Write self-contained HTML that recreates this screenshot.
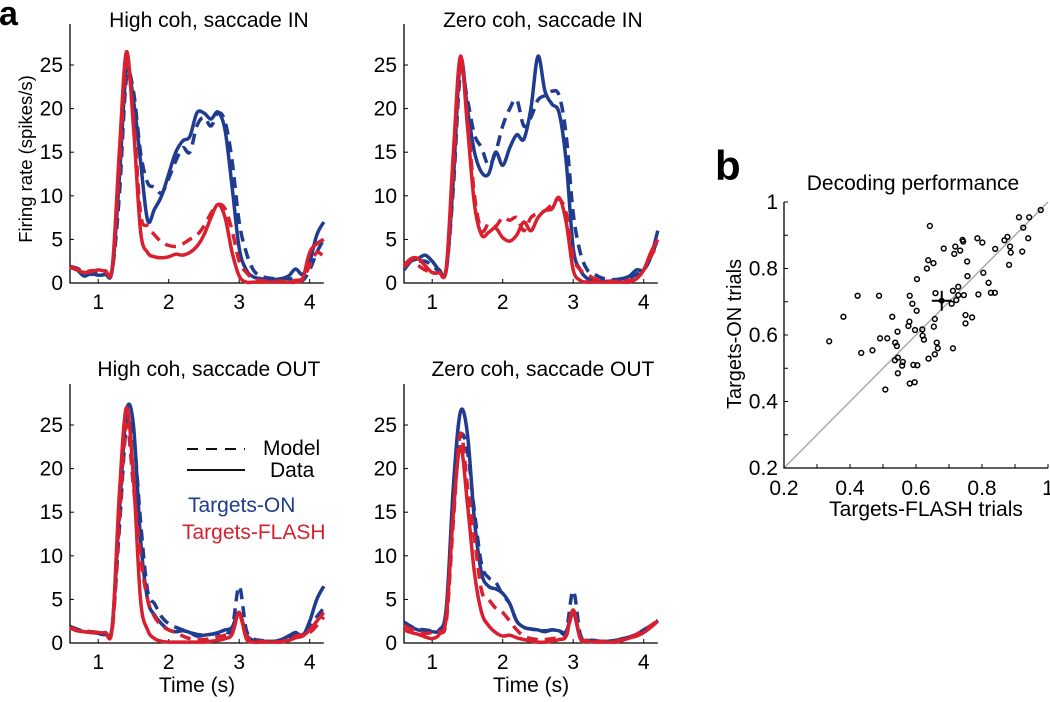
<!DOCTYPE html>
<html><head><meta charset="utf-8">
<style>
body{margin:0;background:#fff;}
svg{display:block;font-family:"Liberation Sans",Arial,sans-serif;}
</style></head>
<body>
<svg id="fig" width="1050" height="702" viewBox="0 0 1050 702" xmlns="http://www.w3.org/2000/svg">
<text x="-1" y="25" font-size="34" font-weight="bold">a</text>
<text x="715" y="180" font-size="42" font-weight="bold">b</text>
<text transform="translate(32,159) rotate(-90)" text-anchor="middle" font-size="18.5">Firing rate (spikes/s)</text>
<text x="197" y="692" text-anchor="middle" font-size="21">Time (s)</text>
<text x="531" y="692" text-anchor="middle" font-size="21">Time (s)</text>
<g>
<line x1="187" y1="449" x2="245" y2="449" stroke="#111" stroke-width="2" stroke-dasharray="11,8"/>
<text x="263" y="455" font-size="21">Model</text>
<line x1="187" y1="470" x2="245" y2="470" stroke="#111" stroke-width="2"/>
<text x="270" y="477" font-size="21">Data</text>
<text x="188" y="512" font-size="21" fill="#1f3c8f">Targets-ON</text>
<text x="182" y="539" font-size="21" fill="#d8202f">Targets-FLASH</text>
</g>
</svg>
<script>
const times = [0.6,0.7,0.8,0.9,1.0,1.1,1.2,1.3,1.4,1.5,1.6,1.7,1.8,1.9,2.0,2.1,2.2,2.3,2.4,2.5,2.6,2.7,2.8,2.9,3.0,3.1,3.2,3.3,3.4,3.5,3.6,3.7,3.8,3.9,4.0,4.1,4.2];
const yTicks = [0,5,10,15,20,25];
const xTicks = [1,2,3,4];
const hiBlueData = [1.8,1.5,0.8,1.1,0.9,1.0,1.5,12,24.5,21,14,7.2,8.5,10,12.5,15,16.3,16.8,19.5,19.5,18.8,19.6,17.5,11,4,1.5,0.7,0.5,0.4,0.4,0.5,0.8,1.6,1.0,2.5,5.5,7];
const hiBlueModel = [1.9,1.7,1.2,1.0,1.1,1.2,1.6,10,23.5,22,15,11.5,11,10.3,12,14,15.5,15,18,19,18,19.5,18.5,14,7,3.5,1.5,0.8,0.6,0.5,0.5,0.5,0.4,0.3,1.5,3.5,5];
const hiRedData = [1.8,1.5,1.2,1.3,1.5,1.4,1.8,15,26.5,18,6,3.5,3.0,2.9,3.0,3.3,3.2,3.5,4.2,5.5,7.5,9,7.5,3.5,0.8,0.1,0.1,0.1,0.1,0.1,0.1,0.1,0.1,0.5,3.5,4.5,5];
const hiRedModel = [1.9,1.6,1.3,1.4,1.4,1.3,1.7,13,25,19,8,6.5,5.5,4.7,4.3,4.2,4.5,5,5.5,6.5,8,9,8.5,6,2.5,1.2,0.5,0.3,0.2,0.2,0.2,0.2,0.3,0.5,2,3.5,3];
const ziBlueData = [1.5,2.5,2.8,3.2,2.5,1.5,1.5,12,25.5,20,15,12.7,12.5,15,13.5,15.5,17,16.5,20,26,22,20.5,19.5,14,4,1.5,0.5,0.3,0.2,0.2,0.3,0.5,0.8,1.5,1.5,3,6];
const ziBlueModel = [1.8,2.6,2.5,2.5,2,1.4,1.6,11,24,21,17,15.5,13.5,15,18,20,21,18,19,21,21.5,22,21.5,17,8,3.5,1.5,1.0,0.6,0.4,0.4,0.5,0.6,1.0,1.5,3,5];
const ziRedData = [2,2.8,2.8,2,1.2,1.2,1.8,15,26,18,9,5.5,5.8,6.3,5.2,4.8,5.5,7,6,7.5,8.3,8.5,9.8,7,1.5,0.3,0.1,0.1,0.1,0.1,0.1,0.1,0.1,0.5,1.5,3.5,5];
const ziRedModel = [1.8,2.5,2,1.5,1.2,1.2,1.5,13,25,19,10,6,6.8,6.5,7.5,7.2,7.5,6,7.5,8,8.3,9,9.6,8,3,1.5,1,0.5,0.3,0.2,0.2,0.2,0.3,0.5,1.5,3,4.5];
const hoBlueData = [1.8,1.5,1.3,1.2,1.1,1.0,2,15,26.5,25,12,5,3.2,2.2,1.5,1.3,1.4,1.2,0.8,0.9,1.0,1.2,1.5,1.8,3.5,1.0,0.3,0.2,0.2,0.2,0.4,0.8,1.2,0.8,2.5,5,6.5];
const hoBlueModel = [1.9,1.6,1.4,1.3,1.2,1.1,1.8,13,25,24,14,6,4.5,3,2.2,1.8,1.5,1.2,1.0,0.9,1.0,1.1,1.3,1.6,6.5,1.5,0.5,0.3,0.2,0.2,0.3,0.6,1.0,1.0,1.8,3,4];
const hoRedData = [1.7,1.4,1.3,1.2,1.2,1.2,1.8,17,27,19,5,1.5,0.5,0.2,0.1,0.1,0.1,0.1,0.1,0.1,0.2,0.3,0.5,1.0,3.5,0.5,0.1,0.1,0.1,0.1,0.1,0.3,0.6,0.8,1.5,2.5,3.5];
const hoRedModel = [1.8,1.5,1.3,1.3,1.2,1.2,1.6,14,25,18,10,5,3,2,1.5,1.2,0.8,0.5,0.4,0.4,0.5,0.7,0.9,1.2,3.2,0.8,0.3,0.2,0.1,0.1,0.2,0.4,0.8,1.0,1.2,2,3];
const zoBlueData = [2.2,1.8,1.5,1.4,1.3,1.5,4,18,26.5,24,14,8,6.5,6.2,5.7,4.5,2.5,1.8,1.6,1.5,1.3,1.5,1.4,1.3,3.5,0.5,0.3,0.2,0.2,0.2,0.3,0.5,0.7,1,1.5,2,2.5];
const zoBlueModel = [2.4,1.9,1.6,1.5,1.4,1.5,3,15,23.5,22,15,9,7.5,7,5.5,4.5,2.5,1.8,1.6,1.5,1.4,1.5,1.4,1.3,6,1,0.4,0.3,0.2,0.2,0.3,0.4,0.6,1,1.4,2,2.6];
const zoRedData = [1.5,1.2,1.0,0.7,0.5,1.0,3,15,22.5,16,8,3.5,2,1.2,0.8,0.9,0.6,0.4,0.2,0.1,0.1,0.2,0.4,0.8,3.8,0.5,0.2,0.1,0.1,0.1,0.1,0.3,0.6,0.8,1.2,1.8,2.5];
const zoRedModel = [2,1.6,1.3,1.1,1.2,1.3,2.5,14,24,18,12,6,5,4,3.5,2.5,1.5,0.8,0.5,0.4,0.4,0.5,0.6,0.8,3.5,0.6,0.3,0.2,0.2,0.2,0.2,0.4,0.7,1.0,1.5,2,2.6];
const scatterX = [0.337,0.380,0.423,0.488,0.434,0.468,0.491,0.513,0.528,0.544,0.537,0.542,0.536,0.545,0.558,0.560,0.545,0.507,0.581,0.596,0.592,0.604,0.581,0.589,0.602,0.580,0.577,0.597,0.619,0.620,0.624,0.603,0.642,0.637,0.653,0.633,0.638,0.657,0.663,0.666,0.654,0.657,0.659,0.684,0.712,0.708,0.722,0.712,0.728,0.728,0.745,0.719,0.716,0.734,0.741,0.743,0.755,0.756,0.750,0.750,0.770,0.786,0.801,0.789,0.804,0.820,0.827,0.839,0.840,0.868,0.877,0.885,0.887,0.882,0.912,0.925,0.943,0.940,0.922,0.978];
const scatterY = [0.581,0.655,0.718,0.718,0.546,0.554,0.590,0.590,0.655,0.610,0.577,0.567,0.524,0.532,0.508,0.519,0.485,0.436,0.454,0.458,0.510,0.509,0.718,0.694,0.673,0.640,0.627,0.615,0.617,0.598,0.586,0.768,0.928,0.825,0.816,0.800,0.529,0.542,0.577,0.560,0.625,0.648,0.726,0.860,0.560,0.694,0.705,0.733,0.745,0.720,0.720,0.866,0.844,0.854,0.886,0.881,0.821,0.777,0.660,0.635,0.653,0.891,0.878,0.722,0.787,0.757,0.727,0.727,0.859,0.885,0.895,0.866,0.848,0.811,0.954,0.923,0.954,0.891,0.851,0.976];
const meanXY = [0.678,0.703];
const meanErr = [0.03,0.03];
const bTicks = [0.2,0.3,0.4,0.5,0.6,0.7,0.8,0.9,1.0];
const bLabels = [0.2,0.4,0.6,0.8,1];

const NS='http://www.w3.org/2000/svg';
const svg=document.getElementById('fig');
function mk(tag,attrs,parent){const e=document.createElementNS(NS,tag);for(const k in attrs)e.setAttribute(k,attrs[k]);(parent||svg).appendChild(e);return e;}
function smooth(pts){let d='M'+pts[0][0].toFixed(1)+','+pts[0][1].toFixed(1);for(let i=0;i<pts.length-1;i++){const p0=pts[Math.max(0,i-1)],p1=pts[i],p2=pts[i+1],p3=pts[Math.min(pts.length-1,i+2)];const c1x=p1[0]+(p2[0]-p0[0])/6,c1y=p1[1]+(p2[1]-p0[1])/6,c2x=p2[0]-(p3[0]-p1[0])/6,c2y=p2[1]-(p3[1]-p1[1])/6;d+=' C'+c1x.toFixed(1)+','+c1y.toFixed(1)+' '+c2x.toFixed(1)+','+c2y.toFixed(1)+' '+p2[0].toFixed(1)+','+p2[1].toFixed(1);}return d;}

const BLUE='#1f3c8f',RED='#d8202f';
function panel(name,title,x0,base,titleY,series){
  const g=mk('g',{});
  
  
  const sx=t=>x0+(t-0.6)*70.5, sy=v=>base-v*8.72;
  const w=3.6*70.5;
  const ax=mk('path',{d:'M'+x0+','+(base-259)+' L'+x0+','+base+' L'+(x0+w)+','+base,fill:'none',stroke:'#000','stroke-width':1.3},g);
  
  
  yTicks.forEach(v=>{
    mk('line',{x1:x0,x2:x0+4,y1:sy(v),y2:sy(v),stroke:'#000','stroke-width':1},g);
    const t=mk('text',{x:x0-7,y:sy(v)+7,'text-anchor':'end','font-size':21},g);t.textContent=v;
    
    
  });
  xTicks.forEach(v=>{
    mk('line',{x1:sx(v),x2:sx(v),y1:base,y2:base-4,stroke:'#000','stroke-width':1},g);
    const t=mk('text',{x:sx(v),y:base+26,'text-anchor':'middle','font-size':21},g);t.textContent=v;
    
    
  });
  const tt=mk('text',{x:x0+w/2+12,y:titleY,'text-anchor':'middle','font-size':21},g);tt.textContent=title;
  
  
  series.forEach(s=>{
    const pts=times.map((t,i)=>[sx(t),sy(s.v[i])]);
    const p=mk('path',{d:smooth(pts),fill:'none',stroke:s.c,'stroke-width':3.5,'stroke-linejoin':'round','stroke-dasharray':s.dash?'11,7':'none'},g);
    
    
  });
}
panel('panel-high-coh-in','High coh, saccade IN',70,283,27,[{v:hiBlueModel,c:BLUE,dash:1,n:'targets-on-model'},{v:hiBlueData,c:BLUE,n:'targets-on-data'},{v:hiRedModel,c:RED,dash:1,n:'targets-flash-model'},{v:hiRedData,c:RED,n:'targets-flash-data'}]);
panel('panel-zero-coh-in','Zero coh, saccade IN',404,283,27,[{v:ziBlueModel,c:BLUE,dash:1,n:'targets-on-model'},{v:ziBlueData,c:BLUE,n:'targets-on-data'},{v:ziRedModel,c:RED,dash:1,n:'targets-flash-model'},{v:ziRedData,c:RED,n:'targets-flash-data'}]);
panel('panel-high-coh-out','High coh, saccade OUT',70,643,376,[{v:hoBlueModel,c:BLUE,dash:1,n:'targets-on-model'},{v:hoBlueData,c:BLUE,n:'targets-on-data'},{v:hoRedModel,c:RED,dash:1,n:'targets-flash-model'},{v:hoRedData,c:RED,n:'targets-flash-data'}]);
panel('panel-zero-coh-out','Zero coh, saccade OUT',404,643,376,[{v:zoBlueModel,c:BLUE,dash:1,n:'targets-on-model'},{v:zoBlueData,c:BLUE,n:'targets-on-data'},{v:zoRedModel,c:RED,dash:1,n:'targets-flash-model'},{v:zoRedData,c:RED,n:'targets-flash-data'}]);

// Panel b scatter
const gb=mk('g',{});


const bx=v=>784+(v-0.2)/0.8*264, by=v=>468-(v-0.2)/0.8*266;
const diag=mk('line',{x1:bx(0.2),y1:by(0.2),x2:bx(1),y2:by(1),stroke:'#aaa','stroke-width':1.5},gb);


const bax=mk('path',{d:'M'+bx(0.2)+','+by(1)+' L'+bx(0.2)+','+by(0.2)+' L'+bx(1)+','+by(0.2),fill:'none',stroke:'#000','stroke-width':1.3},gb);


bTicks.forEach(v=>{
  mk('line',{x1:bx(0.2),x2:bx(0.2)+4,y1:by(v),y2:by(v),stroke:'#000','stroke-width':1},gb);
  mk('line',{x1:bx(v),x2:bx(v),y1:by(0.2),y2:by(0.2)-4,stroke:'#000','stroke-width':1},gb);
});
bLabels.forEach(v=>{
  const t=mk('text',{x:bx(0.2)-6,y:by(v)+7,'text-anchor':'end','font-size':21},gb);t.textContent=v;
  
  
  const u=mk('text',{x:bx(v),y:by(0.2)+27,'text-anchor':'middle','font-size':21},gb);u.textContent=v;
  
  
});
scatterX.forEach((x,i)=>{
  const c=mk('circle',{cx:bx(x),cy:by(scatterY[i]),r:2.4,fill:'none',stroke:'#000','stroke-width':1.5},gb);
  
  
});
const mg=mk('g',{},gb);


mk('line',{x1:bx(meanXY[0]-meanErr[0]),x2:bx(meanXY[0]+meanErr[0]),y1:by(meanXY[1]),y2:by(meanXY[1]),stroke:'#000','stroke-width':2},mg);
mk('line',{x1:bx(meanXY[0]),x2:bx(meanXY[0]),y1:by(meanXY[1]-meanErr[1]),y2:by(meanXY[1]+meanErr[1]),stroke:'#000','stroke-width':2},mg);
mk('circle',{cx:bx(meanXY[0]),cy:by(meanXY[1]),r:3,fill:'#000'},mg);
const bt=mk('text',{x:913,y:190,'text-anchor':'middle','font-size':21},gb);bt.textContent='Decoding performance';


const bxl=mk('text',{x:926,y:516,'text-anchor':'middle','font-size':21},gb);bxl.textContent='Targets-FLASH trials';


const byl=mk('text',{transform:'translate(741,334) rotate(-90)','text-anchor':'middle','font-size':20},gb);byl.textContent='Targets-ON trials';


</script>
</body></html>
